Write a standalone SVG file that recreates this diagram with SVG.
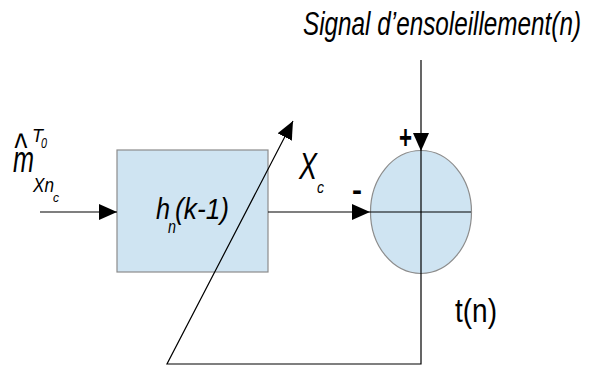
<svg xmlns="http://www.w3.org/2000/svg" width="589" height="369" viewBox="0 0 589 369">
<style>
.shape{fill:#cfe4f2;stroke:#8c8c8c;stroke-width:1.2}
.ln{fill:none;stroke:#000;stroke-width:1.2}
.t{font-family:"Liberation Sans",Arial,sans-serif;fill:#000}
.i{font-style:italic}
</style>
<defs>
<marker id="ah" markerUnits="userSpaceOnUse" markerWidth="20" markerHeight="18" refX="18" refY="8" orient="auto">
<path d="M0,0 L18,8 L0,16 Z" fill="#000"/>
</marker>
</defs>
<rect width="589" height="369" fill="#fff"/>
<g id="block">
<rect class="shape" x="117" y="150" width="151" height="122"/>
<text class="t i" x="156" y="219" font-size="30" textLength="14" lengthAdjust="spacingAndGlyphs">h</text>
<text class="t i" x="168" y="233" font-size="18" textLength="8" lengthAdjust="spacingAndGlyphs">n</text>
<text class="t i" x="175" y="219" font-size="30" textLength="54" lengthAdjust="spacingAndGlyphs">(k-1)</text>
</g>
<g id="sum">
<ellipse class="shape" cx="421" cy="212" rx="50.5" ry="61.5"/>
<text class="t" x="399" y="149" font-size="34" font-weight="bold" textLength="13" lengthAdjust="spacingAndGlyphs">+</text>
<text class="t" x="352" y="200" font-size="30" font-weight="bold" textLength="10" lengthAdjust="spacingAndGlyphs">-</text>
</g>
<g id="connectors">
<line class="ln" x1="40" y1="212" x2="117" y2="212" marker-end="url(#ah)"/>
<line class="ln" x1="268" y1="212" x2="370" y2="212" marker-end="url(#ah)"/>
<line class="ln" x1="370" y1="212" x2="471" y2="212"/>
<line class="ln" x1="421" y1="60" x2="421" y2="151" marker-end="url(#ah)"/>
<polyline class="ln" points="421,151 421,364 167,364 293,121" marker-end="url(#ah)"/>
</g>
<g id="labels">
<text class="t i" x="303" y="35" font-size="33" textLength="278" lengthAdjust="spacingAndGlyphs">Signal d’ensoleillement(n)</text>
<text class="t i" x="13" y="172" font-size="36" textLength="21" lengthAdjust="spacingAndGlyphs">m</text>
<text class="t i" x="14" y="161" font-size="40" textLength="13" lengthAdjust="spacingAndGlyphs">^</text>
<text class="t i" x="32" y="142" font-size="19" textLength="11" lengthAdjust="spacingAndGlyphs">T</text>
<text class="t i" x="41" y="148" font-size="15" textLength="6" lengthAdjust="spacingAndGlyphs">0</text>
<text class="t i" x="33" y="192" font-size="21" textLength="21" lengthAdjust="spacingAndGlyphs">Xn</text>
<text class="t i" x="53" y="202" font-size="13" textLength="6" lengthAdjust="spacingAndGlyphs">c</text>
<text class="t i" x="299" y="179" font-size="36" textLength="18" lengthAdjust="spacingAndGlyphs">X</text>
<text class="t i" x="317" y="193" font-size="17" textLength="7" lengthAdjust="spacingAndGlyphs">c</text>
<text class="t" x="455" y="322" font-size="34" textLength="42" lengthAdjust="spacingAndGlyphs">t(n)</text>
</g>
</svg>
